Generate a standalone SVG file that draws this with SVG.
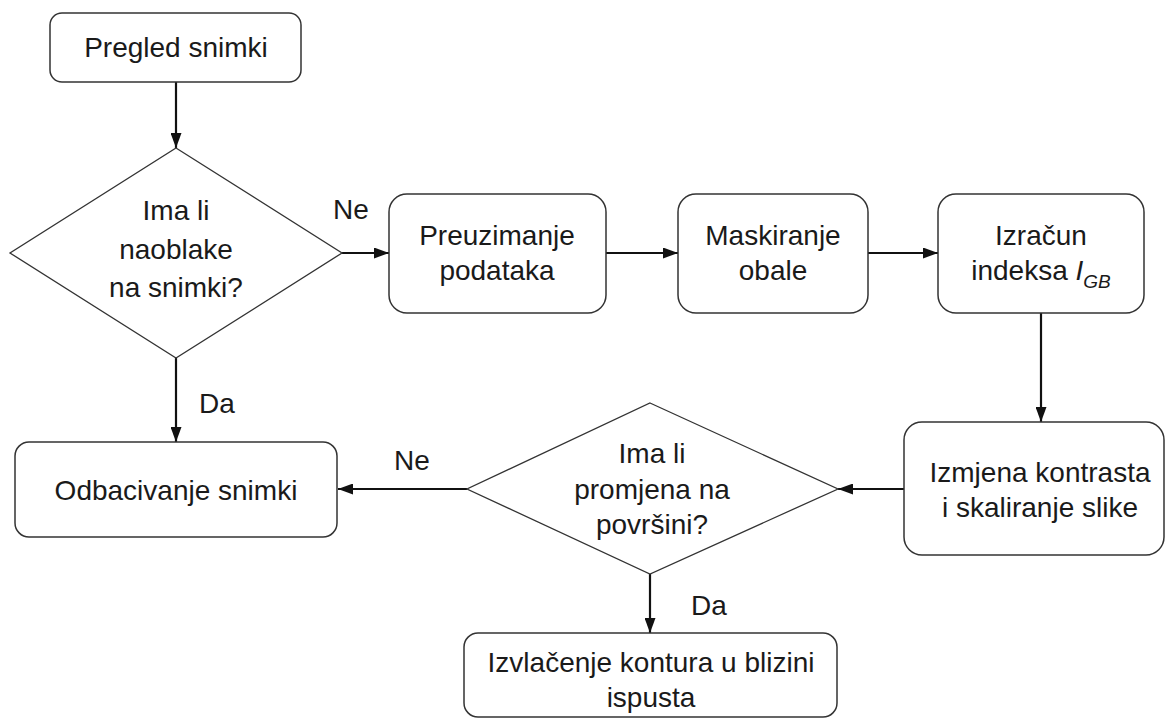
<svg xmlns="http://www.w3.org/2000/svg" width="1168" height="722" viewBox="0 0 1168 722">
<defs>
<style>
.box{fill:#fff;stroke:#333;stroke-width:1.5}
.dia{fill:#fff;stroke:#333;stroke-width:1.3}
.t{font-family:"Liberation Sans",Arial,sans-serif;font-size:28px;fill:#1a1a1a;text-anchor:middle}
.lbl{font-family:"Liberation Sans",Arial,sans-serif;font-size:28px;fill:#1a1a1a}
.c{stroke:#111;stroke-width:2.2;fill:none;marker-end:url(#ah)}
</style>
<marker id="ah" viewBox="0 0 15 11" refX="15" refY="5.5" markerWidth="15" markerHeight="11" markerUnits="userSpaceOnUse" orient="auto">
<path d="M0,0 L15,5.5 L0,11 Z" fill="#111"/>
</marker>
</defs>
<rect width="1168" height="722" fill="#fff"/>
<g id="connectors">
<line class="c" x1="176" y1="82" x2="176" y2="148"/>
<line class="c" x1="342" y1="253" x2="389" y2="253"/>
<line class="c" x1="606" y1="253" x2="678" y2="253"/>
<line class="c" x1="868" y1="253" x2="938" y2="253"/>
<line class="c" x1="1041" y1="313" x2="1041" y2="422"/>
<line class="c" x1="904" y1="489" x2="838" y2="489"/>
<line class="c" x1="467" y1="489" x2="338" y2="489"/>
<line class="c" x1="176" y1="358" x2="176" y2="442"/>
<line class="c" x1="650" y1="574" x2="650" y2="633"/>
<text class="lbl" x="333" y="219">Ne</text>
<text class="lbl" x="199" y="413">Da</text>
<text class="lbl" x="394" y="470">Ne</text>
<text class="lbl" x="691" y="615">Da</text>
</g>
<g id="n1">
<rect class="box" x="50" y="13" width="251" height="69" rx="12"/>
<text class="t" x="176" y="57">Pregled snimki</text>
</g>
<g id="d1">
<polygon class="dia" points="176,148 342,253 176,358 10,253"/>
<text class="t" x="176" y="220">Ima li</text>
<text class="t" x="176" y="259">naoblake</text>
<text class="t" x="176" y="297">na snimki?</text>
</g>
<g id="n2">
<rect class="box" x="389" y="194" width="217" height="119" rx="18"/>
<text class="t" x="497" y="245">Preuzimanje</text>
<text class="t" x="497" y="280">podataka</text>
</g>
<g id="n3">
<rect class="box" x="678" y="194" width="190" height="119" rx="18"/>
<text class="t" x="773" y="245">Maskiranje</text>
<text class="t" x="773" y="280">obale</text>
</g>
<g id="n4">
<rect class="box" x="938" y="194" width="206" height="119" rx="18"/>
<text class="t" x="1041" y="245">Izračun</text>
<text class="t" x="1041" y="280">indeksa <tspan font-style="italic">I</tspan><tspan font-style="italic" font-size="19" dy="8">GB</tspan></text>
</g>
<g id="n5">
<rect class="box" x="904" y="422" width="260" height="133" rx="18"/>
<text class="t" x="1040" y="482">Izmjena kontrasta</text>
<text class="t" x="1040" y="517">i skaliranje slike</text>
</g>
<g id="d2">
<polygon class="dia" points="650,403 838,489 650,574 467,489"/>
<text class="t" x="652" y="463">Ima li</text>
<text class="t" x="652" y="499">promjena na</text>
<text class="t" x="652" y="534">površini?</text>
</g>
<g id="n6">
<rect class="box" x="15" y="442" width="322" height="95" rx="14"/>
<text class="t" x="176" y="500">Odbacivanje snimki</text>
</g>
<g id="n7">
<rect class="box" x="464" y="633" width="373" height="84" rx="14"/>
<text class="t" x="651" y="672">Izvlačenje kontura u blizini</text>
<text class="t" x="651" y="707">ispusta</text>
</g>
</svg>
